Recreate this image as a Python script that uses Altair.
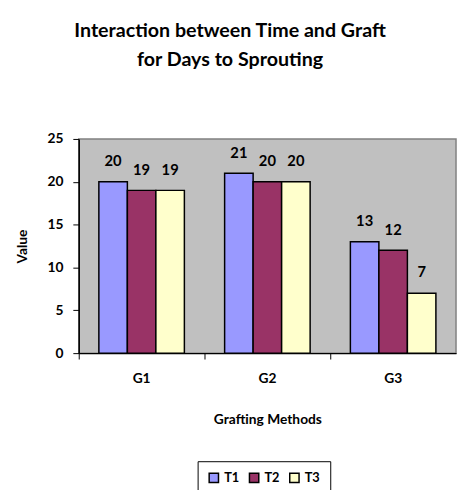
import altair as alt
import pandas as pd

title_lines = ["Interaction between Time and Graft", "for Days to Sprouting"]
grafts = ["G1", "G2", "G3"]
times = ["T1", "T2", "T3"]
values_T1 = [20, 21, 13]
values_T2 = [19, 20, 12]
values_T3 = [19, 20, 7]
colors = ["#9999FF", "#993366", "#FFFFCC"]

rows = []
for i, g in enumerate(grafts):
    for t, vals in zip(times, [values_T1, values_T2, values_T3]):
        rows.append({"Graft": g, "Time": t, "Value": vals[i]})
df = pd.DataFrame(rows)

FONT = "Lato"

x_main = alt.X(
    "Graft:N",
    sort=grafts,
    scale=alt.Scale(paddingInner=0.32, paddingOuter=0.16),
    axis=alt.Axis(
        title="Grafting Methods",
        labelAngle=0,
        ticks=False,
        domain=False,
        labelFont=FONT,
        labelFontWeight="bold",
        labelFontSize=14,
        labelColor="black",
        labelPadding=19,
        titleFont=FONT,
        titleFontWeight="bold",
        titleFontSize=14,
        titleColor="black",
        titlePadding=28,
    ),
)
y_enc = alt.Y(
    "Value:Q",
    scale=alt.Scale(domain=[0, 25], nice=False),
    axis=alt.Axis(
        values=[0, 5, 10, 15, 20, 25],
        grid=False,
        title="Value",
        domainColor="black",
        domainWidth=1.5,
        tickColor="black",
        tickSize=6,
        tickWidth=1,
        labelFont=FONT,
        labelFontWeight="bold",
        labelFontSize=14,
        labelColor="black",
        labelPadding=10,
        titleFont=FONT,
        titleFontWeight="bold",
        titleFontSize=14,
        titleColor="black",
        titlePadding=18,
    ),
)
color_enc = alt.Color(
    "Time:N",
    sort=times,
    scale=alt.Scale(domain=times, range=colors),
    legend=alt.Legend(
        title=None,
        orient="none",
        legendX=121,
        legendY=328,
        direction="horizontal",
        symbolType="square",
        symbolSize=90,
        symbolStrokeColor="black",
        symbolStrokeWidth=1.5,
        labelFont=FONT,
        labelFontWeight="bold",
        labelFontSize=13,
        labelColor="black",
        columnPadding=6,
        strokeColor="black",
        padding=10,
        fillColor="white",
    ),
)

bars = alt.Chart(df).mark_bar(stroke="black", strokeWidth=1.5).encode(
    x=x_main,
    xOffset=alt.XOffset("Time:N", sort=times),
    y=y_enc,
    color=color_enc,
)
labels = alt.Chart(df).mark_text(
    baseline="bottom", dy=-13, font=FONT, fontWeight="bold", fontSize=15, color="black"
).encode(
    x=alt.X("Graft:N", sort=grafts),
    xOffset=alt.XOffset("Time:N", sort=times),
    y="Value:Q",
    text="Value:Q",
)

main = alt.layer(bars, labels)

ticks_layer = alt.Chart(df).mark_bar(opacity=0).encode(
    x=alt.X(
        "Graft:N",
        sort=grafts,
        scale=alt.Scale(paddingInner=0, paddingOuter=0),
        axis=alt.Axis(
            orient="bottom",
            labels=False,
            title=None,
            domainColor="black",
            domainWidth=1.5,
            bandPosition=0,
            tickColor="black",
            tickSize=6,
        ),
    ),
    y=alt.Y("Value:Q"),
)

title_style = dict(
    font=FONT, fontWeight="bold", fontSize=20, color="black",
    align="center", baseline="alphabetic",
)
title1 = alt.Chart(pd.DataFrame({"line": [title_lines[0]]})).mark_text(**title_style).encode(
    x=alt.value(154), y=alt.value(-104), text="line:N"
)
title2 = alt.Chart(pd.DataFrame({"line": [title_lines[1]]})).mark_text(**title_style).encode(
    x=alt.value(154), y=alt.value(-74), text="line:N"
)

chart = (
    alt.layer(main, ticks_layer, title1, title2)
    .resolve_scale(x="independent", xOffset="independent")
    .properties(
        width=384,
        height=218,
        padding={"left": 72, "top": 129, "right": 1, "bottom": 135},
        autosize=alt.AutoSizeParams(type="none"),
        background="white",
    )
    .configure_view(fill="#C0C0C0", stroke="#808080", strokeWidth=1.5)
)

chart.save("out.html", embed_options={"renderer": "svg", "actions": False})
